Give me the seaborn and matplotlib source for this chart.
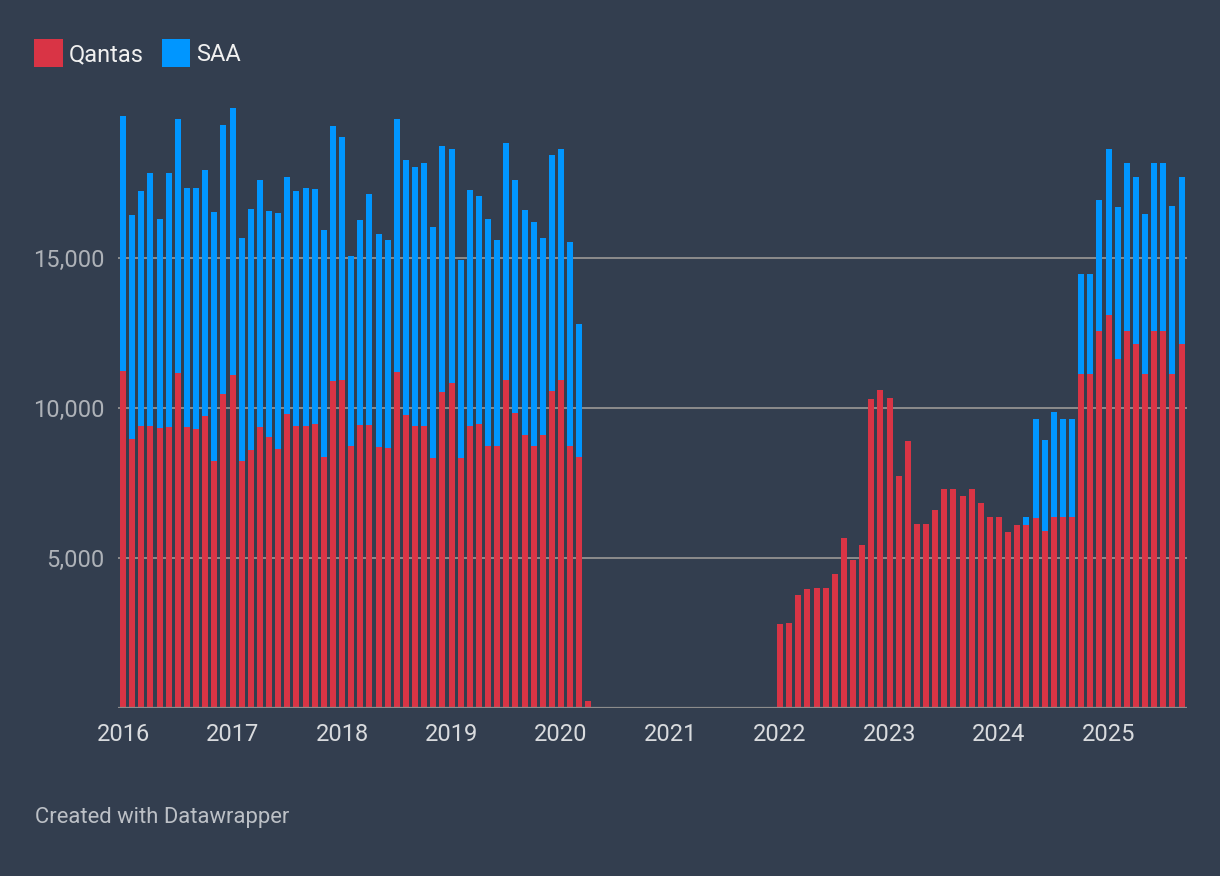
import matplotlib
matplotlib.use("Agg")
import matplotlib.pyplot as plt
from matplotlib.patches import Patch
import numpy as np
import pandas as pd
import seaborn as sns

# ---- Data (monthly, Jan 2016 - Sep 2025) ----
years = [str(y) for y in range(2016, 2026)]
months = [f"{y}-{m:02d}" for y in range(2016, 2026) for m in range(1, 13)][:117]

qantas = [
    # 2016
    11220, 8960, 9400, 9400, 9330, 9360, 11160, 9360, 9290, 9730, 8220, 10470,
    # 2017
    11090, 8220, 8600, 9360, 9020, 8620, 9800, 9400, 9400, 9470, 8360, 10890,
    # 2018
    10930, 8730, 9420, 9420, 8690, 8670, 11200, 9760, 9400, 9400, 8330, 10530,
    # 2019
    10820, 8330, 9400, 9470, 8730, 8730, 10930, 9820, 9090, 8730, 9090, 10560,
    # 2020
    10930, 8730, 8370, 220, 0, 0, 0, 0, 0, 0, 0, 0,
    # 2021
    0, 0, 0, 0, 0, 0, 0, 0, 0, 0, 0, 0,
    # 2022
    2790, 2820, 3760, 3960, 3990, 3990, 4460, 5660, 4920, 5420, 10290, 10590,
    # 2023
    10320, 7720, 8890, 6120, 6120, 6590, 7290, 7290, 7060, 7290, 6820, 6360,
    # 2024
    6360, 5860, 6090, 6090, 6320, 5900, 6360, 6360, 6360, 11150, 11150, 12580,
    # 2025
    13100, 11620, 12580, 12120, 11150, 12580, 12580, 11150, 12120,
]

saa = [
    # 2016
    8530, 7470, 7820, 8420, 6960, 8470, 8460, 7960, 8030, 8190, 8300, 8950,
    # 2017
    8900, 7430, 8020, 8230, 7530, 7870, 7890, 7820, 7920, 7820, 7560, 8500,
    # 2018
    8090, 6320, 6830, 7730, 7100, 6920, 8420, 8500, 8620, 8760, 7690, 8220,
    # 2019
    7830, 6590, 7860, 7590, 7560, 6860, 7920, 7770, 7500, 7460, 6570, 7860,
    # 2020
    7690, 6790, 4420, 0, 0, 0, 0, 0, 0, 0, 0, 0,
    # 2021
    0, 0, 0, 0, 0, 0, 0, 0, 0, 0, 0, 0,
    # 2022
    0, 0, 0, 0, 0, 0, 0, 0, 0, 0, 0, 0,
    # 2023
    0, 0, 0, 0, 0, 0, 0, 0, 0, 0, 0, 0,
    # 2024
    0, 0, 0, 270, 3300, 3020, 3520, 3290, 3290, 3300, 3300, 4340,
    # 2025
    5550, 5070, 5600, 5570, 5300, 5600, 5600, 5570, 5570,
]

series_names = ["Qantas", "SAA"]
y_ticks = [5000, 10000, 15000]
y_tick_labels = ["5,000", "10,000", "15,000"]

# ---- Style ----
BG = "#333e4f"
RED = "#d93445"
BLUE = "#0096ff"
GRID = "#8c8c8c"
TXT = "#d9dbde"
YTXT = "#aeb2b8"

sns.set_theme(style="dark")
plt.rcParams["font.family"] = ["Roboto", "DejaVu Sans"]

df = pd.DataFrame({"month": months, "Qantas": qantas, "SAA": saa})
df["total"] = df["Qantas"] + df["SAA"]

W, H = 1220, 876
fig = plt.figure(figsize=(W / 100, H / 100), dpi=100, facecolor=BG)
ax_l, ax_r, ax_b, ax_t = 118, 1187, 708, 108
ax = fig.add_axes([ax_l / W, 1 - ax_b / H, (ax_r - ax_l) / W, (ax_b - ax_t) / H])
ax.set_facecolor(BG)

sns.barplot(data=df, x="month", y="total", order=months, color=BLUE,
            width=0.66, saturation=1, ax=ax, zorder=3, edgecolor="none")
sns.barplot(data=df, x="month", y="Qantas", order=months, color=RED,
            width=0.66, saturation=1, ax=ax, zorder=4, edgecolor="none")

ax.set_xlim(-0.55, 116.6)
ax.set_ylim(0, 20000)

for sp in ax.spines.values():
    sp.set_visible(False)
ax.grid(False)
for yv in y_ticks:
    ax.axhline(yv, color=GRID, lw=1.4, zorder=1)
ax.axhline(0, color=GRID, lw=1.6, zorder=5)

ax.set_yticks(y_ticks)
ax.set_yticklabels(y_tick_labels)
ax.set_xticks([i * 12 for i in range(len(years))])
ax.set_xticklabels(years)
ax.tick_params(axis="y", length=0, pad=10, labelsize=17, labelcolor=YTXT)
ax.tick_params(axis="x", length=0, pad=11, labelsize=17, labelcolor=TXT)
ax.set_xlabel("")
ax.set_ylabel("")

handles = [Patch(facecolor=RED, edgecolor="none"), Patch(facecolor=BLUE, edgecolor="none")]
leg = fig.legend(handles, series_names, loc="upper left",
                 bbox_to_anchor=(25 / W, 1 - 30 / H), ncol=2, frameon=False,
                 fontsize=17, handlelength=1.19, handleheight=1.45,
                 handletextpad=0.25, columnspacing=0.8, borderaxespad=0)
for t in leg.get_texts():
    t.set_color("#f0f0f0")

fig.text(35 / W, 1 - 817 / H, "Created with Datawrapper", fontsize=15.8,
         color="#bcc0c6", va="center", ha="left")

fig.savefig("out.png", dpi=100, facecolor=BG)
